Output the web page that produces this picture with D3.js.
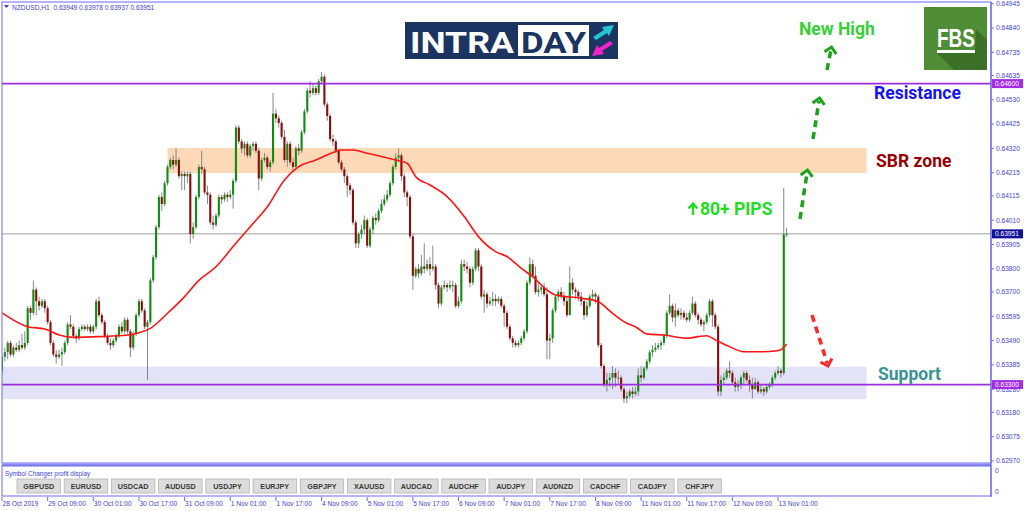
<!DOCTYPE html>
<html>
<head>
<meta charset="utf-8">
<script src="https://d3js.org/d3.v7.min.js"></script>
<style>
  html, body { margin: 0; padding: 0; background: #fff; }
  svg { display: block; font-family: "Liberation Sans", Arial, sans-serif; }
</style>
</head>
<body>
<div id="chart"></div>
<script>
// prices are stored as pips above 0.63000 (e.g. 42 -> 0.63420)
const firstOpen = 36;
const closes = [
  42,44,48,43,46,45,47,46,48,63,
  61,71,66,64,66,63,57,48,43,42,
  43,44,48,56,55,51,50,54,55,54,
  55,53,55,66,60,57,51,48,47,49,
  51,55,53,58,53,46,52,60,66,62,
  55,57,75,85,98,111,108,117,124,127,
  125,127,120,121,120,121,95,98,111,124,
  123,113,112,100,99,103,111,110,112,111,
  112,118,141,135,132,134,129,133,134,131,
  119,127,128,124,126,147,145,143,137,127,
  134,126,124,132,131,139,148,157,156,158,
  156,161,163,151,146,136,135,131,126,123,
  120,116,114,100,91,95,97,101,90,97,
  102,101,105,108,110,112,117,124,128,129,
  120,113,111,94,77,80,78,81,80,82,
  80,81,73,65,72,73,72,73,73,64,
  66,82,81,80,74,80,88,81,68,69,
  65,66,67,66,67,64,61,55,50,48,
  47,48,50,53,74,82,77,70,71,72,
  69,49,50,62,68,70,68,66,60,74,
  71,70,68,66,60,64,68,69,68,47,
  38,30,32,33,35,33,33,28,24,25,
  27,26,27,34,33,37,40,44,45,46,
  47,48,51,61,64,59,62,60,61,59,
  58,61,65,60,58,56,57,60,66,60,
  55,27,32,33,36,35,31,29,30,33,
  35,32,30,28,31,27,28,27,29,30,
  33,35,36,35,94.9,95.1
];
const highs = [
  43,46,49,49,47,48,49,52,53,64,
  64,75,72,68,67,67,64,58,49,45,
  45,46,49,57,60,56,52,55,56,56,
  56,56,56,67,68,61,58,52,50,50,
  52,56,57,59,59,54,53,61,67,67,
  63,58,76,86,99,112,113,118,125,128,
  129,132,128,122,122,122,122,100,112,125,
  131,124,116,113,103,104,112,112,113,113,
  114,119,142,142,136,135,135,134,135,135,
  132,128,130,129,127,156,149,146,144,140,
  135,135,128,133,134,140,149,158,161,160,
  159,162,165,164,152,147,138,136,132,127,
  124,121,117,115,101,96,99,103,102,98,
  103,104,106,110,112,114,118,125,130,132,
  130,121,114,112,95,81,82,86,91,84,
  85,90,82,74,73,75,74,75,75,74,
  68,84,84,83,81,81,89,89,82,71,
  70,68,70,69,68,68,65,62,56,51,
  49,49,51,54,75,85,84,81,74,73,
  74,72,52,63,69,71,72,70,68,81,
  76,72,71,70,67,66,69,71,70,69,
  48,39,35,35,38,37,36,34,29,27,
  28,29,29,37,38,38,41,45,47,48,
  48,49,52,62,69,65,65,63,63,62,
  61,62,68,66,61,59,58,61,67,67,
  61,56,34,35,37,40,36,33,32,34,
  36,36,34,33,33,32,30,29,30,31,
  34,36,38,37,115,97.8
];
const lows = [
  34,40,41,42,42,44,44,45,45,47,
  58,60,60,62,63,61,56,47,42,39,
  41,38,43,47,54,50,48,49,53,53,
  53,52,52,54,59,56,50,47,45,46,
  48,50,52,52,52,42,45,51,59,61,
  54,32,56,74,84,97,105,107,116,123,
  123,124,119,114,114,117,91,93,97,110,
  121,112,108,99,97,98,102,108,109,109,
  110,106,117,134,130,129,128,128,131,130,
  114,118,126,123,122,125,143,141,136,126,
  124,125,122,123,129,130,138,147,154,155,
  155,155,160,150,144,135,133,130,125,122,
  117,111,112,99,89,89,93,95,89,89,
  95,99,100,104,107,109,111,116,123,126,
  118,111,107,93,71,76,76,77,78,79,
  77,79,71,63,64,71,70,71,70,63,
  63,65,79,78,72,73,79,79,67,61,
  63,64,64,64,65,63,55,54,49,46,
  46,46,47,49,52,73,76,69,68,69,
  68,41,41,48,61,66,67,64,59,60,
  69,67,66,64,58,59,63,67,65,46,
  37,29,27,29,28,29,30,27,22,22,
  24,24,25,25,31,32,36,39,42,44,
  45,45,47,50,60,57,55,59,58,58,
  57,57,60,59,56,55,53,56,59,55,
  54,25,25,30,32,33,30,27,27,28,
  30,31,27,24,28,26,26,25,26,28,
  29,32,34,33,34,93.7
];

// moving average (bar index, pips above 0.63000)
const maIndex = [0,9,15,20,25,34,44,48,52,58,64,69,75,81,87,93,99,104,110,116,119,123,128,133,138,142,145,150,156,162,167,173,177,182,186,191,194,203,209,214,219,222,226,232,240,244,247,250,255,260,266,271,273,275];
const maValue = [61,55,54,51.4,50.4,50.7,51.4,52.4,54.3,60.8,68,75,80.9,89.6,98.2,106.8,118.4,124.1,127,130.2,131.3,131.3,129.9,128.5,127,125.6,119.8,116.2,111.2,102.6,93.9,87.4,85.3,80.2,76.6,70.9,68.7,67.3,65.8,60.8,56.5,55,51.9,51.4,50,50.7,51.1,49.3,46.4,44.2,44.2,44.5,45,47.5];

const priceTicks = ['0.64945','0.64840','0.64735','0.64635','0.64530','0.64425','0.64320','0.64215','0.64115','0.64010','0.63905','0.63800','0.63700','0.63595','0.63490','0.63385','0.63280','0.63180','0.63075','0.62970'];
const timeIndex = [0,16,32,48,64,80,96,112,128,144,160,176,192,208,224,240,256,272];
const timeLabels = ['28 Oct 2019','29 Oct 09:00','30 Oct 01:00','30 Oct 17:00','31 Oct 09:00','1 Nov 01:00','1 Nov 17:00','4 Nov 09:00','5 Nov 01:00','5 Nov 17:00','6 Nov 09:00','7 Nov 01:00','7 Nov 17:00','8 Nov 09:00','11 Nov 01:00','11 Nov 17:00','12 Nov 09:00','13 Nov 01:00'];
const symbols = ['GBPUSD','EURUSD','USDCAD','AUDUSD','USDJPY','EURJPY','GBPJPY','XAUUSD','AUDCAD','AUDCHF','AUDJPY','AUDNZD','CADCHF','CADJPY','CHFJPY'];

const levelPrices = [0.64600, 0.63300];
const lastPrice = 0.63951;
const sbrZone = [0.64214, 0.64322];
const supportZone = [0.63237, 0.63377];
const zoneEnd = 303;   // bar index where both drawn zones stop
const sbrStart = 58;

const W = 1024, H = 511;
const plotL = 2, plotR = 991, plotT = 2, plotB = 463;
const frameColor = '#6b6bee', labelColor = '#3f3fd8';

const P = v => 0.63 + v / 10000;
const x = d3.scaleLinear().domain([0, 275]).range([2, 786.6]);
const y = d3.scaleLinear().domain([0.62970, 0.64945]).range([461, 3.7]);

const svg = d3.select('#chart').append('svg')
  .attr('width', W).attr('height', H);

svg.append('rect').attr('width', W).attr('height', H).attr('fill', '#fff');

svg.append('clipPath').attr('id', 'plot')
  .append('rect').attr('x', plotL).attr('y', plotT)
  .attr('width', plotR - plotL).attr('height', plotB - plotT);

const plot = svg.append('g').attr('clip-path', 'url(#plot)');

// zones
plot.append('rect')
  .attr('x', x(0)).attr('width', x(zoneEnd) - x(0))
  .attr('y', y(supportZone[1])).attr('height', y(supportZone[0]) - y(supportZone[1]))
  .attr('fill', '#e3e3f8');
plot.append('rect')
  .attr('x', x(sbrStart)).attr('width', x(zoneEnd) - x(sbrStart))
  .attr('y', y(sbrZone[1])).attr('height', y(sbrZone[0]) - y(sbrZone[1]))
  .attr('fill', '#fdd9b8');

// current price line
plot.append('line')
  .attr('x1', plotL).attr('x2', plotR)
  .attr('y1', y(lastPrice)).attr('y2', y(lastPrice))
  .attr('stroke', '#a0a0a0').attr('stroke-width', 1);

// candles
const bars = closes.map((c, i) => {
  const o = P(i === 0 ? firstOpen : closes[i - 1]);
  const cl = P(c);
  return { i, o, c: cl, h: Math.max(P(highs[i]), o, cl), l: Math.min(P(lows[i]), o, cl) };
});

const cg = plot.append('g');
cg.selectAll('line.wick').data(bars).enter().append('line')
  .attr('class', 'wick')
  .attr('x1', d => x(d.i)).attr('x2', d => x(d.i))
  .attr('y1', d => y(d.h)).attr('y2', d => y(d.l))
  .attr('stroke', '#7a7a7a').attr('stroke-width', 0.9);

cg.selectAll('rect.body').data(bars).enter().append('rect')
  .attr('class', 'body')
  .attr('x', d => x(d.i) - 1.05).attr('width', 2.1)
  .attr('y', d => y(Math.max(d.o, d.c)))
  .attr('height', d => Math.max(1, Math.abs(y(d.o) - y(d.c))))
  .attr('fill', d => d.c >= d.o ? '#118c11' : '#8c0b0b');

// moving average
const ma = maIndex.map((i, k) => [i, maValue[k]]);
plot.append('path').datum(ma)
  .attr('d', d3.line().x(d => x(d[0])).y(d => y(P(d[1]))).curve(d3.curveMonotoneX))
  .attr('fill', 'none').attr('stroke', '#ff1515').attr('stroke-width', 1.6);

// support / resistance lines
plot.selectAll('line.level').data(levelPrices).enter().append('line')
  .attr('class', 'level')
  .attr('x1', plotL).attr('x2', plotR)
  .attr('y1', d => y(d)).attr('y2', d => y(d))
  .attr('stroke', '#9b2fdc').attr('stroke-width', 1.6);

// frames
svg.append('rect').attr('x', plotL).attr('y', plotT)
  .attr('width', plotR - plotL).attr('height', plotB - plotT)
  .attr('fill', 'none').attr('stroke', frameColor).attr('stroke-width', 1);
svg.append('rect').attr('x', plotL).attr('y', 463.5).attr('width', plotR - plotL).attr('height', 2.5)
  .attr('fill', '#8a8af0');
svg.append('rect').attr('x', plotL).attr('y', 466).attr('width', plotR - plotL).attr('height', 30)
  .attr('fill', 'none').attr('stroke', frameColor).attr('stroke-width', 1);
svg.append('line').attr('x1', plotR).attr('x2', plotR).attr('y1', plotT).attr('y2', 497)
  .attr('stroke', frameColor).attr('stroke-width', 1.2);

// price axis
const pa = svg.append('g').attr('font-size', 6.6).attr('fill', labelColor);
priceTicks.forEach(t => {
  const yy = y(+t);
  pa.append('line').attr('x1', plotR).attr('x2', plotR + 3).attr('y1', yy).attr('y2', yy)
    .attr('stroke', frameColor);
  pa.append('text').attr('x', plotR + 5).attr('y', yy).attr('dy', '0.35em').text(t);
});
['0', '0'].forEach((t, k) => {
  pa.append('text').attr('x', plotR + 4).attr('y', k ? 492 : 471).attr('dy', '0.35em').text(t);
});

// price markers
const markers = [
  { p: levelPrices[0], bg: '#a52ee4' },
  { p: lastPrice, bg: '#10109c' },
  { p: levelPrices[1], bg: '#a52ee4' }
];
markers.forEach(m => {
  const yy = y(m.p);
  svg.append('rect').attr('x', plotR + 1).attr('y', yy - 4.5).attr('width', 31).attr('height', 9)
    .attr('fill', m.bg);
  svg.append('text').attr('x', plotR + 4).attr('y', yy).attr('dy', '0.35em')
    .attr('font-size', 6.6).attr('fill', '#fff').text(m.p.toFixed(5));
});

// time axis
const ta = svg.append('g').attr('font-size', 6.6).attr('fill', labelColor);
timeIndex.forEach((i, k) => {
  const xx = x(i);
  ta.append('line').attr('x1', xx).attr('x2', xx).attr('y1', 497).attr('y2', 501)
    .attr('stroke', frameColor);
  ta.append('text').attr('x', xx + 0.5).attr('y', 506).text(timeLabels[k]);
});

// header
svg.append('path').attr('d', 'M4,5 L9,5 L6.5,8 Z').attr('fill', '#3a3ad0');
svg.append('text').attr('x', 12).attr('y', 9.5).attr('font-size', 6.6).attr('fill', labelColor)
  .style('white-space', 'pre')
  .text('NZDUSD,H1  0.63949 0.63978 0.63937 0.63951');

// symbol changer sub window
svg.append('text').attr('x', 5).attr('y', 475.5).attr('font-size', 6.4).attr('fill', labelColor)
  .text('Symbol Changer profit display');
const btn = svg.append('g');
symbols.forEach((s, k) => {
  const bx = 17 + k * 47.2;
  btn.append('rect').attr('x', bx).attr('y', 479).attr('width', 43.5).attr('height', 14)
    .attr('fill', '#dcdcdc').attr('stroke', '#b4b4b4').attr('stroke-width', 0.8);
  btn.append('text').attr('x', bx + 21.75).attr('y', 489).attr('text-anchor', 'middle')
    .attr('font-size', 7.2).attr('font-weight', 'bold').attr('fill', '#3a3a3a').text(s);
});

// INTRADAY logo
const logo = svg.append('g');
logo.append('rect').attr('x', 405).attr('y', 22).attr('width', 213).attr('height', 37).attr('fill', '#1b3461');
logo.append('text').attr('x', 410).attr('y', 52.5).attr('font-size', 30).attr('font-weight', 'bold')
  .attr('font-family', 'Roboto, sans-serif').attr('fill', '#fff')
  .attr('textLength', 104).attr('lengthAdjust', 'spacingAndGlyphs').text('INTRA');
logo.append('rect').attr('x', 518).attr('y', 25).attr('width', 71).attr('height', 31).attr('fill', '#fff');
logo.append('text').attr('x', 521).attr('y', 52.5).attr('font-size', 30).attr('font-weight', 'bold')
  .attr('font-family', 'Roboto, sans-serif').attr('fill', '#1b3461')
  .attr('textLength', 65).attr('lengthAdjust', 'spacingAndGlyphs').text('DAY');
logo.append('path').attr('d', 'M593,37 L604,30 L602,27 L614,25 L609,36 L607,33 L596,40 Z').attr('fill', '#22c6d6');
logo.append('path').attr('d', 'M613,44 L602,51 L604,54 L592,56 L597,45 L599,48 L610,41 Z').attr('fill', '#f024c8');

// FBS logo
const fbs = svg.append('g');
fbs.append('rect').attr('x', 924).attr('y', 7).attr('width', 63).attr('height', 63).attr('fill', '#4f8d36');
fbs.append('path').attr('d', 'M937,53 L975,53 L976,29 L987,40 L987,70 L954,70 Z').attr('fill', '#3c6f27');
fbs.append('text').attr('x', 937).attr('y', 47).attr('font-size', 26).attr('font-weight', 'bold')
  .attr('fill', '#fff').attr('textLength', 38).attr('lengthAdjust', 'spacingAndGlyphs').text('FBS');
fbs.append('rect').attr('x', 937).attr('y', 50).attr('width', 38).attr('height', 3).attr('fill', '#fff');

// annotations
const notes = [
  { t: 'New High', x: 799, y: 35, c: '#38cf38' },
  { t: 'Resistance', x: 874, y: 98.5, c: '#1414f5' },
  { t: 'SBR zone', x: 876, y: 167, c: '#990000' },
  { t: 'Support', x: 878, y: 380, c: '#3a9393' },
  { t: '80+ PIPS', x: 700, y: 215, c: '#22dd22' }
];
const ann = svg.append('g').attr('font-family', 'Roboto, sans-serif').attr('font-weight', 'bold')
  .attr('font-size', 17.5);
notes.forEach(n => {
  ann.append('text').attr('x', n.x).attr('y', n.y).attr('fill', n.c).text(n.t);
});
ann.append('path').attr('d', 'M693,215 L693,204 M688.5,208.5 L693,203.5 L697.5,208.5')
  .attr('fill', 'none').attr('stroke', '#22dd22').attr('stroke-width', 2.4);

const arrows = [
  { from: [800, 219], to: [807.5, 170], c: '#1ea21e' },
  { from: [813, 139], to: [819.5, 98], c: '#1ea21e' },
  { from: [827, 70], to: [831.5, 47], c: '#1ea21e' },
  { from: [812, 315], to: [828, 366], c: '#ff2b2b' }
];
arrows.forEach(a => {
  const dx = a.to[0] - a.from[0], dy = a.to[1] - a.from[1];
  const len = Math.hypot(dx, dy), ux = dx / len, uy = dy / len;
  svg.append('line')
    .attr('x1', a.from[0]).attr('y1', a.from[1])
    .attr('x2', a.to[0] - ux * 3).attr('y2', a.to[1] - uy * 3)
    .attr('stroke', a.c).attr('stroke-width', 3.6).attr('stroke-dasharray', '7,5');
  const hx = a.to[0], hy = a.to[1], s = 6;
  const px = -uy, py = ux;
  svg.append('path')
    .attr('d', `M${hx - ux * s + px * s},${hy - uy * s + py * s} L${hx},${hy} L${hx - ux * s - px * s},${hy - uy * s - py * s}`)
    .attr('fill', 'none').attr('stroke', a.c).attr('stroke-width', 3);
});
</script>
</body>
</html>
